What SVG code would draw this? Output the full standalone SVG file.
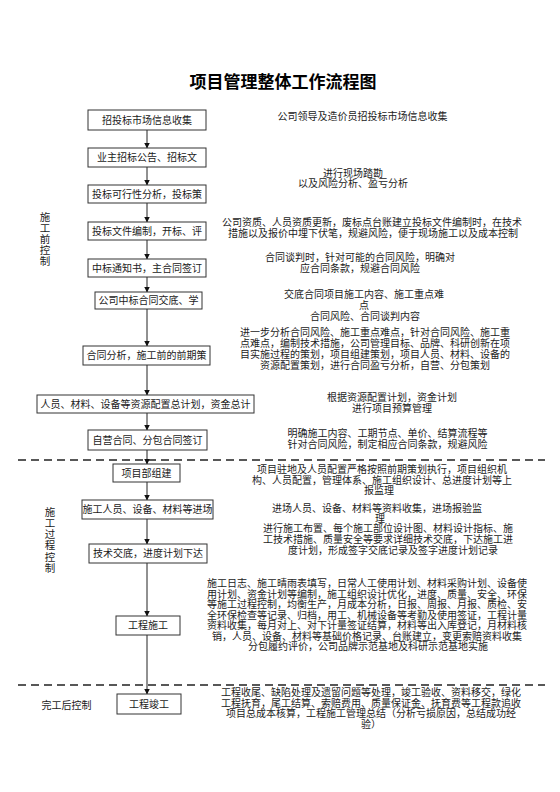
<svg xmlns="http://www.w3.org/2000/svg" width="560" height="792" viewBox="0 0 560 792">
<style>
text{font-family:"Noto Sans CJK SC","Noto Sans",sans-serif;fill:#1a1a1a}
.t{font-size:17px;font-weight:700;text-anchor:middle;fill:#000}
.b{font-size:10px;text-anchor:middle}
.n{font-size:10px;text-anchor:middle;fill:#222}
.l{font-size:10.5px;text-anchor:middle}
rect{fill:#fff;stroke:#333;stroke-width:1}
.c line{stroke:#222;stroke-width:1}
.d{stroke:#222;stroke-width:1.3;stroke-dasharray:8 5;fill:none}
</style>
<defs>
<marker id="ah" markerWidth="6" markerHeight="6" refX="5.5" refY="3" orient="auto" markerUnits="userSpaceOnUse">
<path d="M0,0 L6,3 L0,6 Z" fill="#111"/>
</marker>
</defs>
<rect x="0" y="0" width="560" height="792" style="fill:#fff;stroke:none"/>
<text class="t" x="283" y="88">项目管理整体工作流程图</text>

<g id="dividers">
<line class="d" x1="18" y1="460" x2="545" y2="460"/>
<line class="d" x1="18" y1="685" x2="545" y2="685"/>
</g>

<g class="c" id="connectors">
<line x1="147" y1="130" x2="147" y2="148" marker-end="url(#ah)"/>
<line x1="147" y1="167" x2="147" y2="185" marker-end="url(#ah)"/>
<line x1="147" y1="203" x2="147" y2="222" marker-end="url(#ah)"/>
<line x1="147" y1="240" x2="147" y2="259" marker-end="url(#ah)"/>
<line x1="147" y1="277" x2="147" y2="292" marker-end="url(#ah)"/>
<line x1="147" y1="309" x2="147" y2="346" marker-end="url(#ah)"/>
<line x1="147" y1="365" x2="147" y2="395" marker-end="url(#ah)"/>
<line x1="147" y1="413" x2="147" y2="430" marker-end="url(#ah)"/>
<line x1="147" y1="450" x2="147" y2="464" marker-end="url(#ah)"/>
<line x1="147" y1="482" x2="147" y2="500" marker-end="url(#ah)"/>
<line x1="147" y1="519" x2="147" y2="544" marker-end="url(#ah)"/>
<line x1="147" y1="563" x2="147" y2="616" marker-end="url(#ah)"/>
<line x1="147" y1="635" x2="147" y2="694" marker-end="url(#ah)"/>
</g>

<g id="n1"><rect x="88" y="110" width="118" height="20"/><text class="b" x="147" y="123.7">招投标市场信息收集</text></g>
<g id="n2"><rect x="88" y="148" width="118" height="19"/><text class="b" x="147" y="161.2">业主招标公告、招标文</text></g>
<g id="n3"><rect x="88" y="185" width="118" height="18"/><text class="b" x="147" y="197.7">投标可行性分析，投标策</text></g>
<g id="n4"><rect x="88" y="222" width="118" height="18"/><text class="b" x="147" y="234.7">投标文件编制，开标、评</text></g>
<g id="n5"><rect x="88" y="259" width="118" height="18"/><text class="b" x="147" y="271.7">中标通知书，主合同签订</text></g>
<g id="n6"><rect x="95" y="292" width="107" height="17"/><text class="b" x="148.5" y="304.2">公司中标合同交底、学</text></g>
<g id="n7"><rect x="83" y="346" width="127" height="19"/><text class="b" x="146.5" y="359.2">合同分析，施工前的前期策</text></g>
<g id="n8"><rect x="37" y="395" width="217" height="18"/><text class="b" x="145.5" y="407.7">人员、材料、设备等资源配置总计划，资金总计</text></g>
<g id="n9"><rect x="88" y="430" width="119" height="20"/><text class="b" x="147.5" y="443.7">自营合同、分包合同签订</text></g>
<g id="n10"><rect x="113" y="464" width="67" height="18"/><text class="b" x="146.5" y="476.7">项目部组建</text></g>
<g id="n11"><rect x="82" y="500" width="131" height="19"/><text class="b" x="147.5" y="513.2">施工人员、设备、材料等进场</text></g>
<g id="n12"><rect x="89" y="544" width="118" height="19"/><text class="b" x="148" y="557.2">技术交底，进度计划下达</text></g>
<g id="n13"><rect x="116" y="616" width="64" height="19"/><text class="b" x="148" y="629.2">工程施工</text></g>
<g id="n14"><rect x="117" y="694" width="64" height="20"/><text class="b" x="149" y="707.7">工程竣工</text></g>

<g id="phase-labels">
<text class="l" x="45"><tspan x="45" y="220.5">施</tspan><tspan x="45" y="231.7">工</tspan><tspan x="45" y="242.9">前</tspan><tspan x="45" y="254.1">控</tspan><tspan x="45" y="265.3">制</tspan></text>
<text class="l" x="50"><tspan x="50" y="515.8">施</tspan><tspan x="50" y="527">工</tspan><tspan x="50" y="538.2">过</tspan><tspan x="50" y="549.4">程</tspan><tspan x="50" y="560.6">控</tspan><tspan x="50" y="571.8">制</tspan></text>
<text class="b" x="66.5" y="708.7">完工后控制</text>
</g>

<g id="notes">
<text class="n" x="362.5" y="119.7">公司领导及造价员招投标市场信息收集</text>
<text class="n"><tspan x="353" y="176.5">进行现场踏勘</tspan><tspan x="353" y="187">以及风险分析、盈亏分析</tspan></text>
<text class="n"><tspan x="372" y="226">公司资质、人员资质更新，废标点台账建立投标文件编制时，在技术</tspan><tspan x="373" y="237">措施以及报价中埋下伏笔，规避风险，便于现场施工以及成本控制</tspan></text>
<text class="n"><tspan x="360" y="260.5">合同谈判时，针对可能的合同风险，明确对</tspan><tspan x="360" y="271.5">应合同条款，规避合同风险</tspan></text>
<text class="n"><tspan x="364" y="298">交底合同项目施工内容、施工重点难</tspan><tspan x="364" y="309">点</tspan><tspan x="365" y="320">合同风险、合同谈判内容</tspan></text>
<text class="n"><tspan x="375" y="336">进一步分析合同风险、施工重点难点，针对合同风险、施工重</tspan><tspan x="375" y="347">点难点，编制技术措施，公司管理目标、品牌、科研创新在项</tspan><tspan x="375" y="358">目实施过程的策划，项目组建策划，项目人员、材料、设备的</tspan><tspan x="375" y="369">资源配置策划，进行合同盈亏分析，自营、分包策划</tspan></text>
<text class="n"><tspan x="392" y="401">根据资源配置计划，资金计划</tspan><tspan x="392" y="412">进行项目预算管理</tspan></text>
<text class="n"><tspan x="387.5" y="437">明确施工内容、工期节点、单价、结算流程等</tspan><tspan x="387.5" y="448">针对合同风险，制定相应合同条款，规避风险</tspan></text>
<text class="n"><tspan x="382" y="473">项目驻地及人员配置严格按照前期策划执行，项目组织机</tspan><tspan x="382" y="483.5">构、人员配置，管理体系、施工组织设计、总进度计划等上</tspan><tspan x="379" y="494">报监理</tspan></text>
<text class="n"><tspan x="377" y="512">进场人员、设备、材料等资料收集，进场报验监</tspan><tspan x="380" y="521.5">理</tspan></text>
<text class="n"><tspan x="388" y="532">进行施工布置、每个施工部位设计图、材料设计指标、施</tspan><tspan x="388" y="543">工技术措施、质量安全等要求详细技术交底，下达施工进</tspan><tspan x="393" y="554">度计划，形成签字交底记录及签字进度计划记录</tspan></text>
<text class="n"><tspan x="367" y="587">施工日志、施工晴雨表填写，日常人工使用计划、材料采购计划、设备使</tspan><tspan x="367" y="597.5">用计划、资金计划等编制，施工组织设计优化，进度、质量、安全、环保</tspan><tspan x="367" y="608">等施工过程控制，均衡生产，月成本分析，日报、周报、月报、质检、安</tspan><tspan x="367" y="618.5">全环保检查等记录、归档，用工、机械设备等考勤及使用签证，工程计量</tspan><tspan x="367" y="629">资料收集，每月对上、对下计量签证结算，材料等出入库登记，月材料核</tspan><tspan x="367" y="639.5">销，人员、设备、材料等基础价格记录、台账建立，变更索赔资料收集</tspan><tspan x="368" y="650">分包履约评价，公司品牌示范基地及科研示范基地实施</tspan></text>
<text class="n"><tspan x="371" y="696">工程收尾、缺陷处理及遗留问题等处理，竣工验收、资料移交，绿化</tspan><tspan x="371" y="706.5">工程抚育，尾工结算、索赔费用、质量保证金、抚育费等工程款追收</tspan><tspan x="371" y="717">项目总成本核算，工程施工管理总结（分析亏损原因，总结成功经</tspan><tspan x="371" y="727.5">验）</tspan></text>
</g>
</svg>
